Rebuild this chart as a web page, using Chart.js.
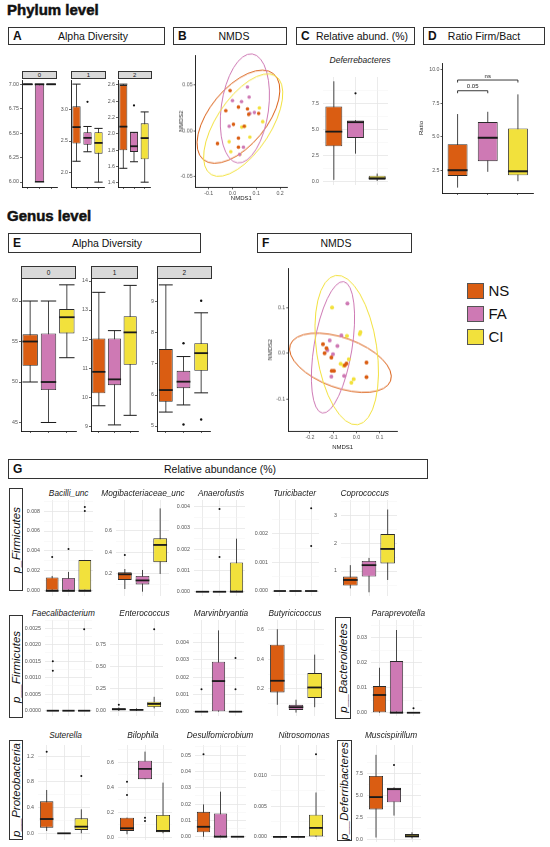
<!DOCTYPE html>
<html>
<head>
<meta charset="utf-8">
<script src="https://cdn.jsdelivr.net/npm/chart.js@4.4.1/dist/chart.umd.min.js"></script>
<style>
html, body { margin: 0; padding: 0; background: #fff; }
#fig { position: relative; width: 550px; height: 847px; overflow: hidden; font-family: "Liberation Sans", Arial, sans-serif; color: #111; }
#fig canvas { position: absolute; }
.lvl { position: absolute; font-weight: bold; font-size: 15px; white-space: nowrap; -webkit-text-stroke: 0.5px #111; }
.hd { position: absolute; box-sizing: border-box; border: 1.4px solid #333; background: #fff; font-size: 10.5px; }
.hd b { position: absolute; left: 4px; top: 50%; transform: translateY(-50%); font-size: 12px; }
.hd span { position: absolute; top: 50%; transform: translate(-50%, -50%); white-space: nowrap; }
.strip { position: absolute; box-sizing: border-box; border: 0.8px solid #333; background: #D9D9D9; font-size: 6px; text-align: center; }
.gt { position: absolute; width: 120px; text-align: center; font-style: italic; font-size: 8.3px; line-height: 10px; white-space: nowrap; color: #1a1a1a; }
.side { position: absolute; box-sizing: border-box; border: 1.4px solid #333; background: #fff; }
.side span { position: absolute; left: 50%; top: 50%; transform: translate(-50%, -50%) rotate(-90deg); font-style: italic; font-size: 11.5px; white-space: nowrap; }
.lbox { position: absolute; box-sizing: border-box; border: 1px solid #555; width: 17px; height: 16px; }
.ltxt { position: absolute; font-size: 15px; line-height: 16px; }
</style>
</head>
<body>
<div id="fig"></div>
<script>
// groups and colours
const groups = ['NS', 'FA', 'CI'];
const groupColors = ['#DA5D12', '#CE79B4', '#F2E13C'];

// box stats per group: [lower whisker, q1, median, q3, upper whisker]
// outliers: [group index, value]

// A - phylum alpha diversity, facets 0 / 1 / 2
const alphaPhy0 = [[7, 7, 7, 7, 7], [6, 6, 7, 7, 7], [7, 7, 7, 7, 7]];
const alphaPhy1 = [[2.18, 2.46, 2.72, 3.05, 3.40], [2.33, 2.44, 2.55, 2.64, 2.73], [1.85, 2.30, 2.47, 2.64, 2.70]];
const alphaPhy2 = [[1.58, 1.80, 2.09, 2.60, 2.61], [1.66, 1.78, 1.85, 2.02, 2.02], [1.41, 1.69, 1.95, 2.13, 2.27]];
const alphaPhy1Out = [[1, 3.12]];
const alphaPhy2Out = [[1, 2.35]];
const alphaPhy0Ticks = [6, 6.25, 6.5, 6.75, 7];
const alphaPhy1Ticks = [2, 2.5, 3];
const alphaPhy2Ticks = [1.4, 1.6, 1.8, 2.0, 2.2, 2.4, 2.6];

// B - phylum NMDS
const nmdsPhyNS = [[-0.010, 0.044], [-0.028, 0.022], [0.025, 0.026], [0.063, 0.024], [0.068, 0.018], [0.110, 0.019], [0.004, 0.007], [-0.063, -0.014], [0.025, -0.008], [0.025, -0.018], [0.049, 0.005]];
const nmdsPhyFA = [[0.063, 0.048], [0.000, 0.033], [0.038, 0.032], [0.070, 0.037], [0.092, 0.020], [0.073, 0.019], [-0.014, 0.005], [0.046, -0.018], [0.030, -0.026]];
const nmdsPhyCI = [[0.113, 0.025], [0.127, 0.010], [0.052, 0.005], [0.039, 0.004], [-0.014, -0.012], [-0.007, -0.023], [0.031, -0.026], [0.073, -0.007]];
// ellipses: [centre x, centre y, axis1 x, axis1 y, axis2 x, axis2 y]
const nmdsPhyEllipses = [[0.025, 0.0154, 0.148, 0.0469, 0.0915, -0.0201], [0.052, 0.0245, 0.031, 0.0597, 0.0986, -0.0033], [0.045, 0.0062, 0.134, 0.0542, 0.0986, -0.0147]];
const nmdsPhyXTicks = [-0.1, 0, 0.1, 0.2];
const nmdsPhyYTicks = [-0.05, 0, 0.05];

// C / Muscispirillum - Deferribacteres relative abundance
const deferri = [[0.2, 3.4, 4.8, 7.2, 9.6], [2.7, 4.2, 5.7, 5.85, 5.9], [0.1, 0.2, 0.35, 0.6, 0.8]];
const deferriOut = [[1, 8.45]];
const deferriTicks = [0, 2.5, 5, 7.5];

// D - Firmicutes / Bacteroidetes ratio
const ratioFB = [[1.22, 2.09, 2.52, 4.46, 6.71], [2.40, 3.19, 4.94, 6.11, 6.88], [1.70, 2.14, 2.44, 5.64, 8.18]];
const ratioTicks = [2.5, 5, 7.5, 10];
const ratioSig = [[0, 2, 9.25, 'ns'], [0, 1, 8.45, '0.05']];

// E - genus alpha diversity
const alphaGen0 = [[50, 52, 55, 55.9, 60], [45, 49, 50, 56, 60], [53, 56, 58, 59, 62]];
const alphaGen1 = [[9.70, 10.13, 10.87, 12.02, 13.61], [9.04, 10.41, 10.61, 12.02, 12.29], [9.37, 11.11, 12.23, 12.79, 13.85]];
const alphaGen2 = [[5.45, 5.78, 6.16, 7.48, 9.55], [5.68, 6.22, 6.43, 6.78, 7.24], [6.07, 6.78, 7.35, 7.67, 8.65]];
const alphaGen2Out = [[1, 7.67], [1, 5.05], [2, 9.04], [2, 5.21]];
const alphaGen0Ticks = [45, 50, 55, 60];
const alphaGen1Ticks = [9, 10, 11, 12, 13, 14];
const alphaGen2Ticks = [5, 6, 7, 8, 9];

// F - genus NMDS
const nmdsGenNS = [[-0.144, 0.020], [-0.137, 0.000], [-0.108, -0.009], [-0.106, -0.038], [-0.097, -0.038], [-0.050, -0.026], [-0.043, -0.022], [0.043, -0.020], [0.043, -0.052], [-0.129, 0.011]];
const nmdsGenFA = [[-0.039, 0.109], [-0.065, 0.039], [-0.115, 0.028], [-0.082, 0.016], [-0.125, 0.007], [-0.101, -0.002], [-0.108, -0.051], [-0.053, -0.049]];
const nmdsGenCI = [[-0.105, 0.100], [-0.041, 0.038], [0.014, 0.042], [0.017, 0.046], [-0.033, -0.013], [-0.068, -0.023], [-0.012, -0.056], [-0.022, -0.064], [-0.055, -0.027]];
const nmdsGenEllipses = [[-0.069, -0.0205, 0.2155, -0.0393, -0.0366, -0.0513], [-0.101, 0.0131, 0.0461, 0.1432, 0.0806, -0.0068], [-0.042, 0.0072, -0.0474, 0.1627, 0.128, 0.0096]];
const nmdsGenXTicks = [-0.2, -0.1, 0, 0.1];
const nmdsGenYTicks = [-0.1, 0, 0.1];

// G - genus relative abundance
const bacilliUnc = [[0, 0, 0, 0.00135, 0.0015], [0, 0, 0, 0.0013, 0.0019], [0, 0, 0, 0.0031, 0.0031]];
const bacilliUncOut = [[0, 0.0034], [1, 0.0042], [2, 0.0080], [2, 0.0084]];
const bacilliUncTicks = [0, 0.002, 0.004, 0.006, 0.008];
const mogibact = [[0.06, 0.144, 0.197, 0.216, 0.246], [0.035, 0.102, 0.14, 0.182, 0.237], [0.2, 0.309, 0.47, 0.532, 0.81]];
const mogibactOut = [[0, 0.377]];
const mogibactTicks = [0.2, 0.4, 0.6];
const anaerofustis = [[0, 0, 0, 0, 0], [0, 0, 0, 0, 0], [0, 0, 0, 0.00138, 0.0025]];
const anaerofustisOut = [[1, 0.0039], [1, 0.00164]];
const anaerofustisTicks = [0, 0.001, 0.002, 0.003, 0.004];
const turicibacter = [[0, 0, 0, 0, 0], [0, 0, 0, 0, 0], [0, 0, 0, 0, 0]];
const turicibacterOut = [[2, 0.0029], [2, 0.00158]];
const turicibacterTicks = [0, 0.001, 0.002];
const coprococcus = [[0.38, 0.48, 0.68, 0.8, 1.21], [0.24, 0.8, 1.21, 1.36, 1.47], [0.68, 1.27, 1.79, 2.32, 3.2]];
const coprococcusTicks = [1, 2, 3];
const faecali = [[0, 0, 0, 0, 0], [0, 0, 0, 0, 0], [0, 0, 0, 0, 0]];
const faecaliOut = [[0, 0.0015], [0, 0.00121], [2, 0.00247]];
const faecaliTicks = [0, 0.0005, 0.001, 0.0015, 0.002, 0.0025];
const enterococcus = [[0, 0.01, 0.02, 0.03, 0.04], [0, 0.008, 0.013, 0.02, 0.03], [0.03, 0.045, 0.08, 0.105, 0.16]];
const enterococcusOut = [[0, 0.07], [2, 0.92]];
const enterococcusTicks = [0, 0.25, 0.5, 0.75];
const marvinbryantia = [[0, 0, 0, 0, 0], [0, 0, 0.00177, 0.00289, 0.0047], [0, 0, 0, 0, 0]];
const marvinbryantiaOut = [[0, 0.0013], [2, 0.0031], [2, 0.0013]];
const marvinbryantiaTicks = [0, 0.001, 0.002, 0.003, 0.004];
const butyricicoccus = [[0.094, 0.177, 0.255, 0.497, 0.6], [0.042, 0.06, 0.078, 0.094, 0.128], [0.078, 0.14, 0.21, 0.307, 0.43]];
const butyricicoccusTicks = [0.2, 0.4, 0.6];
const paraprevotella = [[0, 0, 0.0071, 0.0107, 0.018], [0, 0, 0, 0.0207, 0.0331], [0, 0, 0, 0, 0]];
const paraprevotellaOut = [[2, 0.0018]];
const paraprevotellaTicks = [0, 0.01, 0.02, 0.03];
const suterella = [[0.036, 0.088, 0.223, 0.50, 0.675], [0, 0, 0, 0, 0], [0, 0.052, 0.104, 0.234, 0.374]];
const suterellaOut = [[0, 1.27], [2, 0.893]];
const suterellaTicks = [0, 0.4, 0.8, 1.2];
const bilophila = [[0.024, 0.051, 0.072, 0.157, 0.157], [0.464, 0.464, 0.547, 0.613, 0.685], [0.032, 0.04, 0.051, 0.179, 0.437]];
const bilophilaOut = [[0, 0.445], [0, 0.339], [1, 0.157], [1, 0.131]];
const bilophilaTicks = [0, 0.2, 0.4, 0.6];
const desulfo = [[0, 0.0027, 0.0061, 0.0153, 0.0198], [0, 0, 0, 0.0143, 0.0276], [0, 0, 0, 0, 0]];
const desulfoOut = [[0, 0.0506]];
const desulfoTicks = [0, 0.01, 0.02, 0.03, 0.04, 0.05];
const nitrosomonas = [[0, 0, 0, 0, 0], [0, 0, 0, 0, 0], [0, 0, 0.00146, 0.0036, 0.0072]];
const nitrosomonasOut = [[2, 0.0134]];
const nitrosomonasTicks = [0, 0.005, 0.01];

Chart.defaults.font.family = '"Liberation Sans", Arial, sans-serif';
Chart.defaults.animation = false;
Chart.defaults.plugins.legend.display = false;
Chart.defaults.plugins.tooltip.enabled = false;

const fig = document.getElementById('fig');

// whiskers, medians, caps and significance brackets
const boxParts = {
  id: 'boxParts',
  beforeDatasetsDraw(chart) {
    const ds = chart.data.datasets[0];
    if (!ds || !ds.stats) return;
    const meta = chart.getDatasetMeta(0), ys = chart.scales.y, ctx = chart.ctx;
    ctx.save();
    ctx.strokeStyle = '#333';
    ctx.lineWidth = 0.9;
    ds.stats.forEach((s, i) => {
      const bar = meta.data[i];
      ctx.beginPath();
      ctx.moveTo(bar.x, ys.getPixelForValue(s[0]));
      ctx.lineTo(bar.x, ys.getPixelForValue(s[4]));
      ctx.stroke();
    });
    ctx.restore();
  },
  afterDatasetsDraw(chart) {
    const ds = chart.data.datasets[0];
    if (!ds || !ds.stats) return;
    const meta = chart.getDatasetMeta(0), ys = chart.scales.y, xs = chart.scales.x, ctx = chart.ctx;
    ctx.save();
    ds.stats.forEach((s, i) => {
      const bar = meta.data[i], hw = bar.width / 2;
      ctx.strokeStyle = '#1a1a1a';
      ctx.lineWidth = ds.medW || 1.8;
      const my = ys.getPixelForValue(s[2]);
      ctx.beginPath();
      ctx.moveTo(bar.x - hw, my);
      ctx.lineTo(bar.x + hw, my);
      ctx.stroke();
      if (ds.caps) {
        ctx.lineWidth = 1;
        [s[0], s[4]].forEach(v => {
          const cy = ys.getPixelForValue(v);
          ctx.beginPath();
          ctx.moveTo(bar.x - hw, cy);
          ctx.lineTo(bar.x + hw, cy);
          ctx.stroke();
        });
      }
    });
    const br = chart.data.brackets;
    if (br) {
      ctx.strokeStyle = '#222';
      ctx.fillStyle = '#222';
      ctx.lineWidth = 0.9;
      ctx.font = '6px "Liberation Sans", Arial, sans-serif';
      ctx.textAlign = 'center';
      ctx.textBaseline = 'bottom';
      br.forEach(b => {
        const x0 = xs.getPixelForValue(b[0]), x1 = xs.getPixelForValue(b[1]), y = ys.getPixelForValue(b[2]);
        ctx.beginPath();
        ctx.moveTo(x0, y + 2.5); ctx.lineTo(x0, y); ctx.lineTo(x1, y); ctx.lineTo(x1, y + 2.5);
        ctx.stroke();
        ctx.fillText(b[3], (x0 + x1) / 2, y - 1);
      });
    }
    ctx.restore();
  }
};

// confidence ellipses drawn through the scales
const ellipses = {
  id: 'ellipses',
  beforeDatasetsDraw(chart) {
    const E = chart.data.ellipses;
    if (!E) return;
    const xs = chart.scales.x, ys = chart.scales.y, ctx = chart.ctx;
    ctx.save();
    E.forEach((e, i) => {
      const cx = xs.getPixelForValue(e[0]), cy = ys.getPixelForValue(e[1]);
      const ux = xs.getPixelForValue(e[0] + e[2]) - cx, uy = ys.getPixelForValue(e[1] + e[3]) - cy;
      const vx = xs.getPixelForValue(e[0] + e[4]) - cx, vy = ys.getPixelForValue(e[1] + e[5]) - cy;
      ctx.save();
      ctx.beginPath();
      ctx.transform(ux, uy, vx, vy, cx, cy);
      ctx.arc(0, 0, 1, 0, Math.PI * 2);
      ctx.restore();
      ctx.strokeStyle = groupColors[i];
      ctx.lineWidth = 1;
      ctx.stroke();
    });
    ctx.restore();
  }
};
Chart.register(boxParts, ellipses);

function addCanvas(l, t, w, h) {
  const c = document.createElement('canvas');
  c.width = w; c.height = h;
  c.style.left = l + 'px'; c.style.top = t + 'px';
  c.style.width = w + 'px'; c.style.height = h + 'px';
  fig.appendChild(c);
  return c;
}

function tickList(major, minor, range) {
  const t = major.map(v => ({ value: v }));
  if (minor) {
    const step = major[1] - major[0];
    const cand = [major[0] - step / 2, major[major.length - 1] + step / 2];
    for (let i = 1; i < major.length; i++) cand.push((major[i - 1] + major[i]) / 2);
    cand.forEach(v => { if (v >= range[0] && v <= range[1]) t.push({ value: v, minor: true }); });
  }
  return t.sort((a, b) => a.value - b.value);
}

const TICK_FONT = { size: 5.3 };
const TICK_COLOR = '#555';

function boxChart(o) {
  const [l, t, r, b] = o.rect;
  const classic = !!o.classic;
  const yw = o.yw || (classic ? 16 : 26);
  const xh = 3, pt = 9, pb = 6, pr = 2;
  const cl = Math.round(l - yw), ct = Math.round(t) - pt;
  const w = Math.round(r) - cl + pr, h = Math.round(b) - ct + xh + pb;
  const cv = addCanvas(cl, ct, w, h);
  const minorGrid = c => c.tick && c.tick.minor;
  new Chart(cv, {
    type: 'bar',
    data: {
      labels: groups,
      datasets: [{
        data: o.stats.map(s => [s[1], s[3]]),
        backgroundColor: groupColors,
        borderColor: '#2a2a2a',
        borderWidth: 0.9,
        borderSkipped: false,
        barPercentage: o.bw || 0.78,
        categoryPercentage: 1,
        stats: o.stats,
        caps: !!o.caps,
        medW: o.medW
      }, {
        type: 'line',
        showLine: false,
        data: (o.outs || []).map(p => ({ x: groups[p[0]], y: p[1] })),
        pointRadius: o.dot || 1,
        pointBackgroundColor: '#111',
        pointBorderWidth: 0
      }],
      brackets: o.brackets
    },
    options: {
      responsive: false,
      events: [],
      layout: { padding: { left: 0, top: pt, right: pr, bottom: pb } },
      scales: {
        x: {
          offset: true,
          afterFit: s => { s.height = xh; },
          border: classic ? { display: true, color: '#111', width: 0.9 } : { display: false },
          grid: classic
            ? { offset: false, drawOnChartArea: false, tickLength: 2, color: '#222', lineWidth: 0.7 }
            : { offset: false, drawTicks: false, color: '#E6E6E6', lineWidth: 0.8 },
          ticks: { display: false }
        },
        y: {
          min: o.range[0],
          max: o.range[1],
          afterFit: s => { s.width = yw; },
          afterBuildTicks: s => { s.ticks = tickList(o.ticks, !classic, o.range); },
          border: classic ? { display: true, color: '#111', width: 0.9 } : { display: false },
          grid: classic
            ? { drawOnChartArea: false, tickLength: 2, color: '#222', lineWidth: 0.7 }
            : { drawTicks: false, color: c => minorGrid(c) ? '#F3F3F3' : '#E6E6E6', lineWidth: c => minorGrid(c) ? 0.5 : 0.8 },
          ticks: {
            autoSkip: false,
            padding: classic ? 1 : 4,
            font: TICK_FONT,
            color: TICK_COLOR,
            callback: (v, i, ts) => ts[i].minor ? '' : Number(v).toFixed(o.dec)
          },
          title: o.yTitle
            ? { display: true, text: o.yTitle, padding: 0, color: '#222', font: { size: 6 } }
            : { display: false }
        }
      }
    }
  });
}

function nmdsChart(o) {
  const [l, t, r, b] = o.rect;
  const pt = 9, pb = 1, pr = 8;
  const cl = Math.round(l - o.yw), ct = Math.round(t) - pt;
  const w = Math.round(r) - cl + pr, h = Math.round(b) - ct + o.xh + pb;
  const cv = addCanvas(cl, ct, w, h);
  const axis = (range, ticks, dec, title, isX) => ({
    type: 'linear',
    min: range[0],
    max: range[1],
    afterFit: s => { if (isX) s.height = o.xh; else s.width = o.yw; },
    afterBuildTicks: s => { s.ticks = ticks.map(v => ({ value: v })); },
    border: { display: true, color: '#111', width: 0.9 },
    grid: { drawOnChartArea: false, tickLength: 2, color: '#222', lineWidth: 0.7 },
    ticks: { autoSkip: false, padding: 1, font: TICK_FONT, color: TICK_COLOR, maxRotation: 0, callback: v => Number(v).toFixed(dec) },
    title: { display: true, text: title, padding: 0, color: '#222', font: { size: 6 } }
  });
  new Chart(cv, {
    type: 'scatter',
    data: {
      datasets: o.pts.map((p, i) => ({
        data: p.map(q => ({ x: q[0], y: q[1] })),
        pointRadius: o.dot,
        pointBackgroundColor: groupColors[i],
        pointBorderWidth: 0
      })),
      ellipses: o.ell
    },
    options: {
      responsive: false,
      events: [],
      layout: { padding: { left: 0, top: pt, right: pr, bottom: pb } },
      scales: {
        x: axis(o.xr, o.xt, o.xdec, 'NMDS1', true),
        y: axis(o.yr, o.yt, o.ydec, 'NMDS2', false)
      }
    }
  });
}

// ---------- static text ----------
function el(cls, l, t, w, h, html) {
  const d = document.createElement('div');
  d.className = cls;
  d.style.left = l + 'px'; d.style.top = t + 'px';
  if (w != null) d.style.width = w + 'px';
  if (h != null) d.style.height = h + 'px';
  d.innerHTML = html;
  fig.appendChild(d);
  return d;
}

el('lvl', 7, 1, null, null, 'Phylum level');
el('lvl', 7, 207, null, null, 'Genus level');

[
  ['A', 'Alpha Diversity', 8, 27, 157, 18, 84],
  ['B', 'NMDS', 173, 27, 114, 18, 60],
  ['C', 'Relative abund. (%)', 296, 27, 119, 18, 65],
  ['D', 'Ratio Firm/Bact', 423, 27, 122, 18, 60],
  ['E', 'Alpha Diversity', 8, 233, 193, 19.5, 98],
  ['F', 'NMDS', 257, 233, 155, 19.5, 78],
  ['G', 'Relative abundance (%)', 8, 459, 420, 20, 211]
].forEach(h => {
  el('hd', h[2], h[3], h[4], h[5], '<b>' + h[0] + '</b><span style="left:' + h[6] + 'px">' + h[1] + '</span>');
});

// facet strips
[[21.7, 57.3, '0'], [71, 106, '1'], [117.7, 151.7, '2']].forEach(s => {
  el('strip', s[0], 70.5, s[1] - s[0], 8.5, s[2]).style.lineHeight = '7px';
});
[[21, 76, '0'], [90.7, 138.3, '1'], [156.7, 211.7, '2']].forEach(s => {
  const d = el('strip', s[0], 266, s[1] - s[0], 12.7, s[2]);
  d.style.lineHeight = '11px'; d.style.fontSize = '6.5px';
});

// phylum side labels
[
  ['p_Firmicutes', 9.3, 488, 14, 103],
  ['p__Firmicutes', 9.3, 615, 14, 103],
  ['p__Bacteroidetes', 335, 616.5, 16, 102],
  ['p__Proteobacteria', 9.3, 740, 14, 100],
  ['p__Deferribacteres', 336.5, 740, 15, 101]
].forEach(s => el('side', s[1], s[2], s[3], s[4], '<span>' + s[0] + '</span>'));

// legend
groups.forEach((g, i) => {
  const top = [283.3, 306, 329.3][i];
  const bx = el('lbox', 466.7, top, null, null, '');
  bx.style.background = groupColors[i];
  el('ltxt', 488.5, top, null, null, g);
});

// ---------- panels ----------
// A
boxChart({ rect: [21.7, 80, 57.3, 186.7], range: [5.949, 7.044], stats: alphaPhy0, ticks: alphaPhy0Ticks, dec: 2, classic: true, caps: true, bw: 0.8 });
boxChart({ rect: [71, 80, 106, 186.7], range: [1.773, 3.465], stats: alphaPhy1, outs: alphaPhy1Out, ticks: alphaPhy1Ticks, dec: 1, classic: true, caps: true, bw: 0.75, dot: 1.1 });
boxChart({ rect: [117.7, 80, 151.7, 186.7], range: [1.351, 2.661], stats: alphaPhy2, outs: alphaPhy2Out, ticks: alphaPhy2Ticks, dec: 1, classic: true, caps: true, bw: 0.75, dot: 1.1 });

// B
nmdsChart({ rect: [196, 55, 287, 187], yw: 17.6, xh: 14.6, xr: [-0.155, 0.229], yr: [-0.062, 0.083], xt: nmdsPhyXTicks, yt: nmdsPhyYTicks, xdec: 1, ydec: 2, pts: [nmdsPhyNS, nmdsPhyFA, nmdsPhyCI], ell: nmdsPhyEllipses, dot: 1.8 });

// C
el('gt', 300, 55, null, null, 'Deferrebacteres').style.fontSize = '8.5px';
boxChart({ rect: [323, 77, 390, 185], range: [-0.29, 10.01], stats: deferri, outs: deferriOut, ticks: deferriTicks, dec: 1, bw: 0.78, dot: 1.1 });

// D
boxChart({ rect: [442.3, 63, 533, 192.7], range: [0.82, 10.52], stats: ratioFB, ticks: ratioTicks, dec: 1, classic: true, bw: 0.66, yw: 24.5, yTitle: 'Ratio', brackets: ratioSig, medW: 2 });

// E
boxChart({ rect: [21, 279, 76, 431], range: [43.95, 62.72], stats: alphaGen0, ticks: alphaGen0Ticks, dec: 0, classic: true, caps: true, bw: 0.84 });
boxChart({ rect: [90.7, 279, 138.3, 431], range: [8.83, 14.07], stats: alphaGen1, ticks: alphaGen1Ticks, dec: 0, classic: true, caps: true, bw: 0.84 });
boxChart({ rect: [156.7, 279, 211.7, 431], range: [4.84, 9.74], stats: alphaGen2, outs: alphaGen2Out, ticks: alphaGen2Ticks, dec: 0, classic: true, caps: true, bw: 0.78, dot: 1.2 });

// F
nmdsChart({ rect: [288.7, 268, 397, 431], yw: 21.3, xh: 19.6, xr: [-0.293, 0.174], yr: [-0.170, 0.186], xt: nmdsGenXTicks, yt: nmdsGenYTicks, xdec: 1, ydec: 1, pts: [nmdsGenNS, nmdsGenFA, nmdsGenCI], ell: nmdsGenEllipses, dot: 2 });

// G
const gPanels = [
  ['Bacilli_unc', bacilliUnc, bacilliUncOut, bacilliUncTicks, 3, [44.3, 500, 94.7, 596], [-0.00051, 0.00911], 68.7, 492.7],
  ['Mogibacteriaceae_unc', mogibact, mogibactOut, mogibactTicks, 1, [115.9, 500, 170.6, 596], [-0.005, 0.888], 143, 492.7],
  ['Anaerofustis', anaerofustis, anaerofustisOut, anaerofustisTicks, 3, [193.8, 500, 247.2, 596], [-0.0002, 0.00432], 221, 492.7],
  ['Turicibacter', turicibacter, turicibacterOut, turicibacterTicks, 3, [271.7, 500, 321.3, 596], [-0.000175, 0.00319], 294.7, 492.7],
  ['Coprococcus', coprococcus, [], coprococcusTicks, 0, [340.6, 500, 396.9, 596], [0.107, 3.54], 364.7, 492.7],
  ['Faecalibacterium', faecali, faecaliOut, faecaliTicks, 4, [45, 620, 94, 716], [-0.00016, 0.00275], 63.3, 613.3],
  ['Enterococcus', enterococcus, enterococcusOut, enterococcusTicks, 2, [109.6, 620, 164.8, 716], [-0.056, 1.025], 144.5, 613.3],
  ['Marvinbryantia', marvinbryantia, marvinbryantiaOut, marvinbryantiaTicks, 3, [193.2, 620, 246.3, 716], [-0.00025, 0.0053], 221, 613.3],
  ['Butyricicoccus', butyricicoccus, [], butyricicoccusTicks, 1, [268.3, 620, 323.7, 716], [0.019, 0.662], 295, 613.3],
  ['Paraprevotella', paraprevotella, paraprevotellaOut, paraprevotellaTicks, 2, [370.8, 620, 424.4, 716], [-0.0013, 0.0371], 398.3, 613.3],
  ['Suterella', suterella, suterellaOut, suterellaTicks, 1, [37.9, 745, 92.4, 840], [-0.104, 1.376], 65.5, 734.5],
  ['Bilophila', bilophila, bilophilaOut, bilophilaTicks, 1, [117.9, 745, 173.8, 840], [-0.022, 0.738], 143, 734.5],
  ['Desulfomicrobium', desulfo, desulfoOut, desulfoTicks, 2, [194.7, 745, 248.4, 840], [-0.002, 0.0562], 220, 734.5],
  ['Nitrosomonas', nitrosomonas, nitrosomonasOut, nitrosomonasTicks, 3, [271, 745, 326.5, 840], [-0.0005, 0.0149], 304, 734.5],
  ['Muscispirillum', deferri, deferriOut, deferriTicks, 1, [367.3, 745, 422.5, 842], [-0.307, 10.72], 391, 734.5]
];
gPanels.forEach(p => {
  el('gt', p[7] - 60, p[8] - 5, null, null, p[0]);
  boxChart({ rect: p[5], range: p[6], stats: p[1], outs: p[2], ticks: p[3], dec: p[4], bw: 0.78, dot: 1 });
});
</script>
</body>
</html>
